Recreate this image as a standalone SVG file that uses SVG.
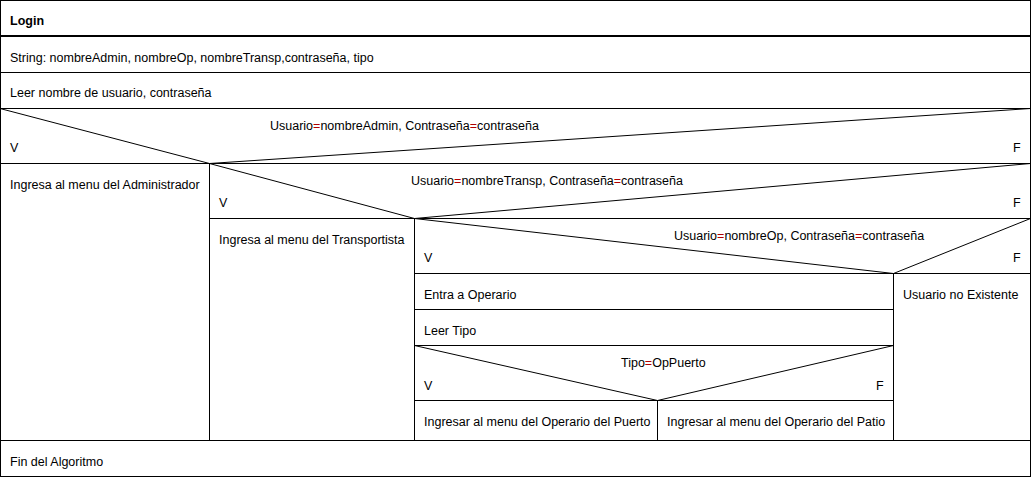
<svg xmlns="http://www.w3.org/2000/svg" width="1031" height="477" viewBox="0 0 1031 477">
<style>
text{font-family:"Liberation Sans",Arial,sans-serif;font-size:12.5px;fill:#000}
.b{font-weight:bold}
.r{fill:#b00000}
line,rect,polyline{stroke:#000;stroke-width:1;fill:none}
.thick{stroke-width:2}
</style>
<rect x="0" y="0" width="1031" height="477" fill="#fff" stroke="none"/>
<g id="connectors">
<rect x="0.5" y="0.5" width="1030" height="476"/>
<line class="thick" x1="0" y1="36" x2="1031" y2="36"/>
<line x1="0" y1="72.5" x2="1031" y2="72.5"/>
<line x1="0" y1="108.5" x2="1031" y2="108.5"/>
<polyline points="0,108.5 209.5,163.5 1030.5,108.5"/>
<line x1="0" y1="163.5" x2="1031" y2="163.5"/>
<line x1="209.5" y1="163.5" x2="209.5" y2="440.5"/>
<polyline points="209.5,163.5 414.5,218.5 1030.5,163.5"/>
<line x1="209.5" y1="218.5" x2="1031" y2="218.5"/>
<line x1="414.5" y1="218.5" x2="414.5" y2="440.5"/>
<polyline points="414.5,218.5 893.5,273.5 1030.5,218.5"/>
<line x1="414.5" y1="273.5" x2="1031" y2="273.5"/>
<line x1="893.5" y1="273.5" x2="893.5" y2="440.5"/>
<line x1="414.5" y1="309.5" x2="893.5" y2="309.5"/>
<line x1="414.5" y1="345.5" x2="893.5" y2="345.5"/>
<polyline points="414.5,345.5 657.5,400.5 893.5,345.5"/>
<line x1="414.5" y1="400.5" x2="893.5" y2="400.5"/>
<line x1="657.5" y1="400.5" x2="657.5" y2="440.5"/>
<line x1="0" y1="440.5" x2="1031" y2="440.5"/>
</g>
<g id="title"><text class="b" x="10" y="25">Login</text></g>
<g id="decl"><text x="10" y="62">String: nombreAdmin, nombreOp, nombreTransp,contraseña, tipo</text></g>
<g id="read"><text x="10" y="97">Leer nombre de usuario, contraseña</text></g>
<g id="cond1">
<text x="270" y="130">Usuario<tspan class="r">=</tspan>nombreAdmin, Contraseña<tspan class="r">=</tspan>contraseña</text>
<text x="10" y="152">V</text>
<text x="1013" y="152">F</text>
</g>
<g id="admin"><text x="10" y="189">Ingresa al menu del Administrador</text></g>
<g id="cond2">
<text x="411" y="185">Usuario<tspan class="r">=</tspan>nombreTransp, Contraseña<tspan class="r">=</tspan>contraseña</text>
<text x="219" y="207">V</text>
<text x="1013" y="207">F</text>
</g>
<g id="transp"><text x="219" y="244">Ingresa al menu del Transportista</text></g>
<g id="cond3">
<text x="674" y="240">Usuario<tspan class="r">=</tspan>nombreOp, Contraseña<tspan class="r">=</tspan>contraseña</text>
<text x="424" y="262">V</text>
<text x="1013" y="262">F</text>
</g>
<g id="noexiste"><text x="903" y="299">Usuario no Existente</text></g>
<g id="operario"><text x="424" y="299">Entra a Operario</text></g>
<g id="leertipo"><text x="424" y="335">Leer Tipo</text></g>
<g id="cond4">
<text x="621" y="367">Tipo<tspan class="r">=</tspan>OpPuerto</text>
<text x="424" y="390">V</text>
<text x="876" y="390">F</text>
</g>
<g id="puerto"><text x="424" y="426">Ingresar al menu del Operario del Puerto</text></g>
<g id="patio"><text x="667" y="426">Ingresar al menu del Operario del Patio</text></g>
<g id="fin"><text x="10" y="466">Fin del Algoritmo</text></g>
</svg>
